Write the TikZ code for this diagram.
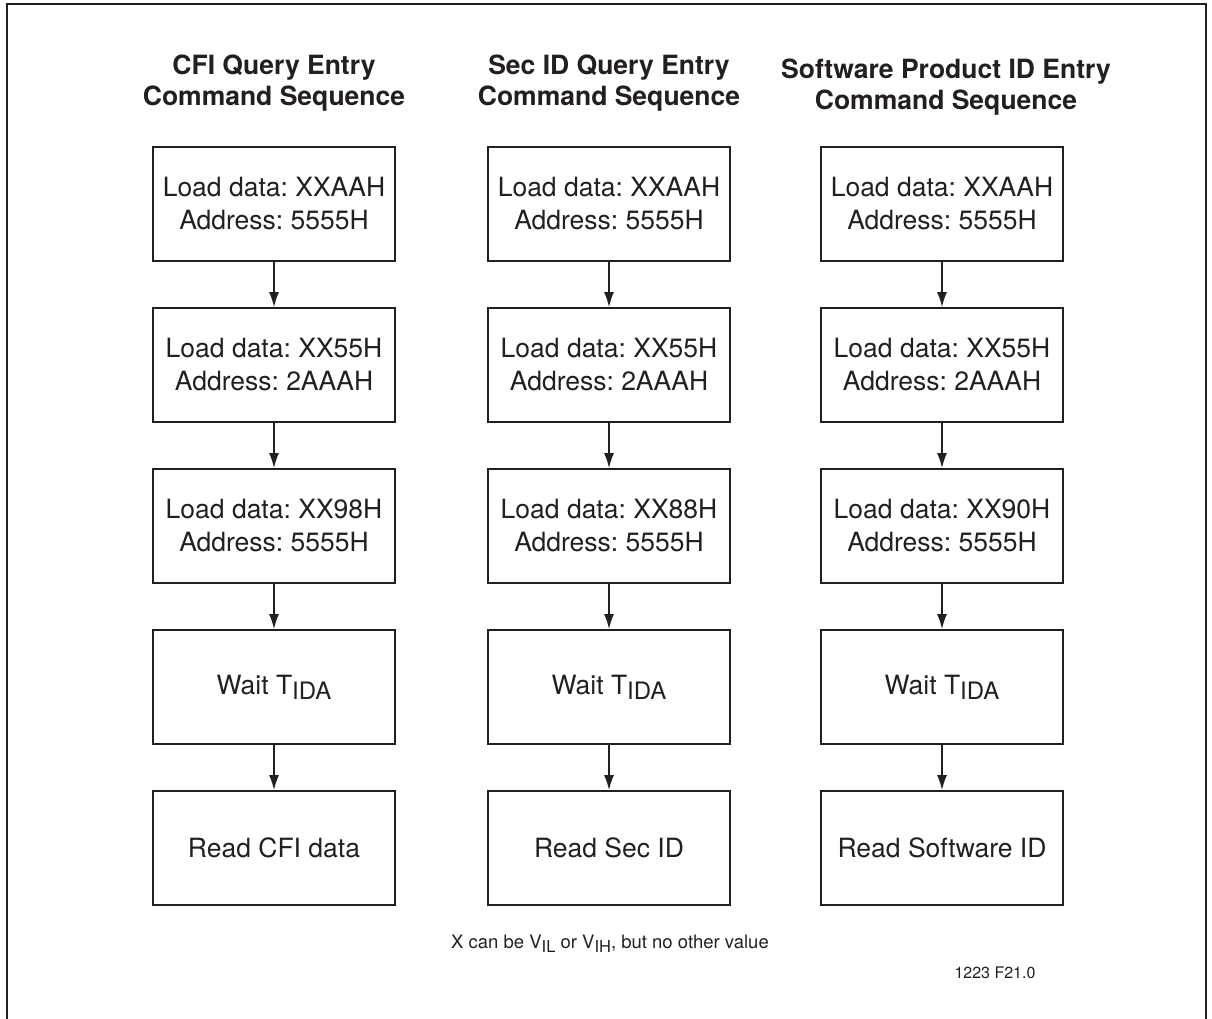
\documentclass[tikz,border=0pt]{standalone}
\usepackage{fontspec}
\setmainfont{TeX Gyre Heros}
\usetikzlibrary{arrows.meta,positioning}
\frenchspacing

\definecolor{ink}{HTML}{231F20}
\tikzset{
  cmdbox/.style={draw, line width=1.8pt, minimum width=242pt, minimum height=114pt,
    inner sep=0pt, align=center, font=\fontsize{26.5}{33}\selectfont},
  seqtitle/.style={align=center, font=\fontsize{26.5}{30.5}\selectfont\bfseries},
  flow/.style={-{Latex[length=15pt,width=10pt]}, line width=1.5pt}
}
\newcommand{\waittida}{Wait T\raisebox{-5pt}{\fontsize{24}{24}\selectfont IDA}}
\newcommand{\lowsub}[1]{\raisebox{-4pt}{\fontsize{16.5}{16.5}\selectfont #1}}

\begin{document}
\begin{tikzpicture}[x=1pt,y=-1pt,node distance=161pt,color=ink]
\useasboundingbox (0,0) rectangle (1212,1019);
\draw[line width=2pt] (7,1019) -- (7,4) -- (1206,4) -- (1206,1019);

\node[seqtitle] (TA) at (274,83) {CFI Query Entry\\Command Sequence};
\node[seqtitle] (TB) at (609,83) {Sec ID Query Entry\\Command Sequence};
\node[seqtitle] (TC) at (946,87) {Software Product ID Entry\\Command Sequence};

\node[cmdbox] (A1) at (274,204) {Load data: XXAAH\\Address: 5555H};
\node[cmdbox] (A2) [below of=A1] {Load data: XX55H\\Address: 2AAAH};
\node[cmdbox] (A3) [below of=A2] {Load data: XX98H\\Address: 5555H};
\node[cmdbox] (A4) [below of=A3] {\waittida};
\node[cmdbox] (A5) [below of=A4] {Read CFI data};

\node[cmdbox] (B1) at (609,204) {Load data: XXAAH\\Address: 5555H};
\node[cmdbox] (B2) [below of=B1] {Load data: XX55H\\Address: 2AAAH};
\node[cmdbox] (B3) [below of=B2] {Load data: XX88H\\Address: 5555H};
\node[cmdbox] (B4) [below of=B3] {\waittida};
\node[cmdbox] (B5) [below of=B4] {Read Sec ID};

\node[cmdbox] (C1) at (942,204) {Load data: XXAAH\\Address: 5555H};
\node[cmdbox] (C2) [below of=C1] {Load data: XX55H\\Address: 2AAAH};
\node[cmdbox] (C3) [below of=C2] {Load data: XX90H\\Address: 5555H};
\node[cmdbox] (C4) [below of=C3] {\waittida};
\node[cmdbox] (C5) [below of=C4] {Read Software ID};

\path[flow] (A1) edge (A2)
	(A2) edge (A3)
	(A3) edge (A4)
	(A4) edge (A5)
	(B1) edge (B2)
	(B2) edge (B3)
	(B3) edge (B4)
	(B4) edge (B5)
	(C1) edge (C2)
	(C2) edge (C3)
	(C3) edge (C4)
	(C4) edge (C5)
;

\node[anchor=base, font=\fontsize{18.5}{18.5}\selectfont] (note) at (610,948)
  {X can be V\lowsub{IL} or V\lowsub{IH}, but no other value};
\node[anchor=base, font=\fontsize{16}{16}\selectfont] (figid) at (995,978) {1223 F21.0};
\end{tikzpicture}
\end{document}
